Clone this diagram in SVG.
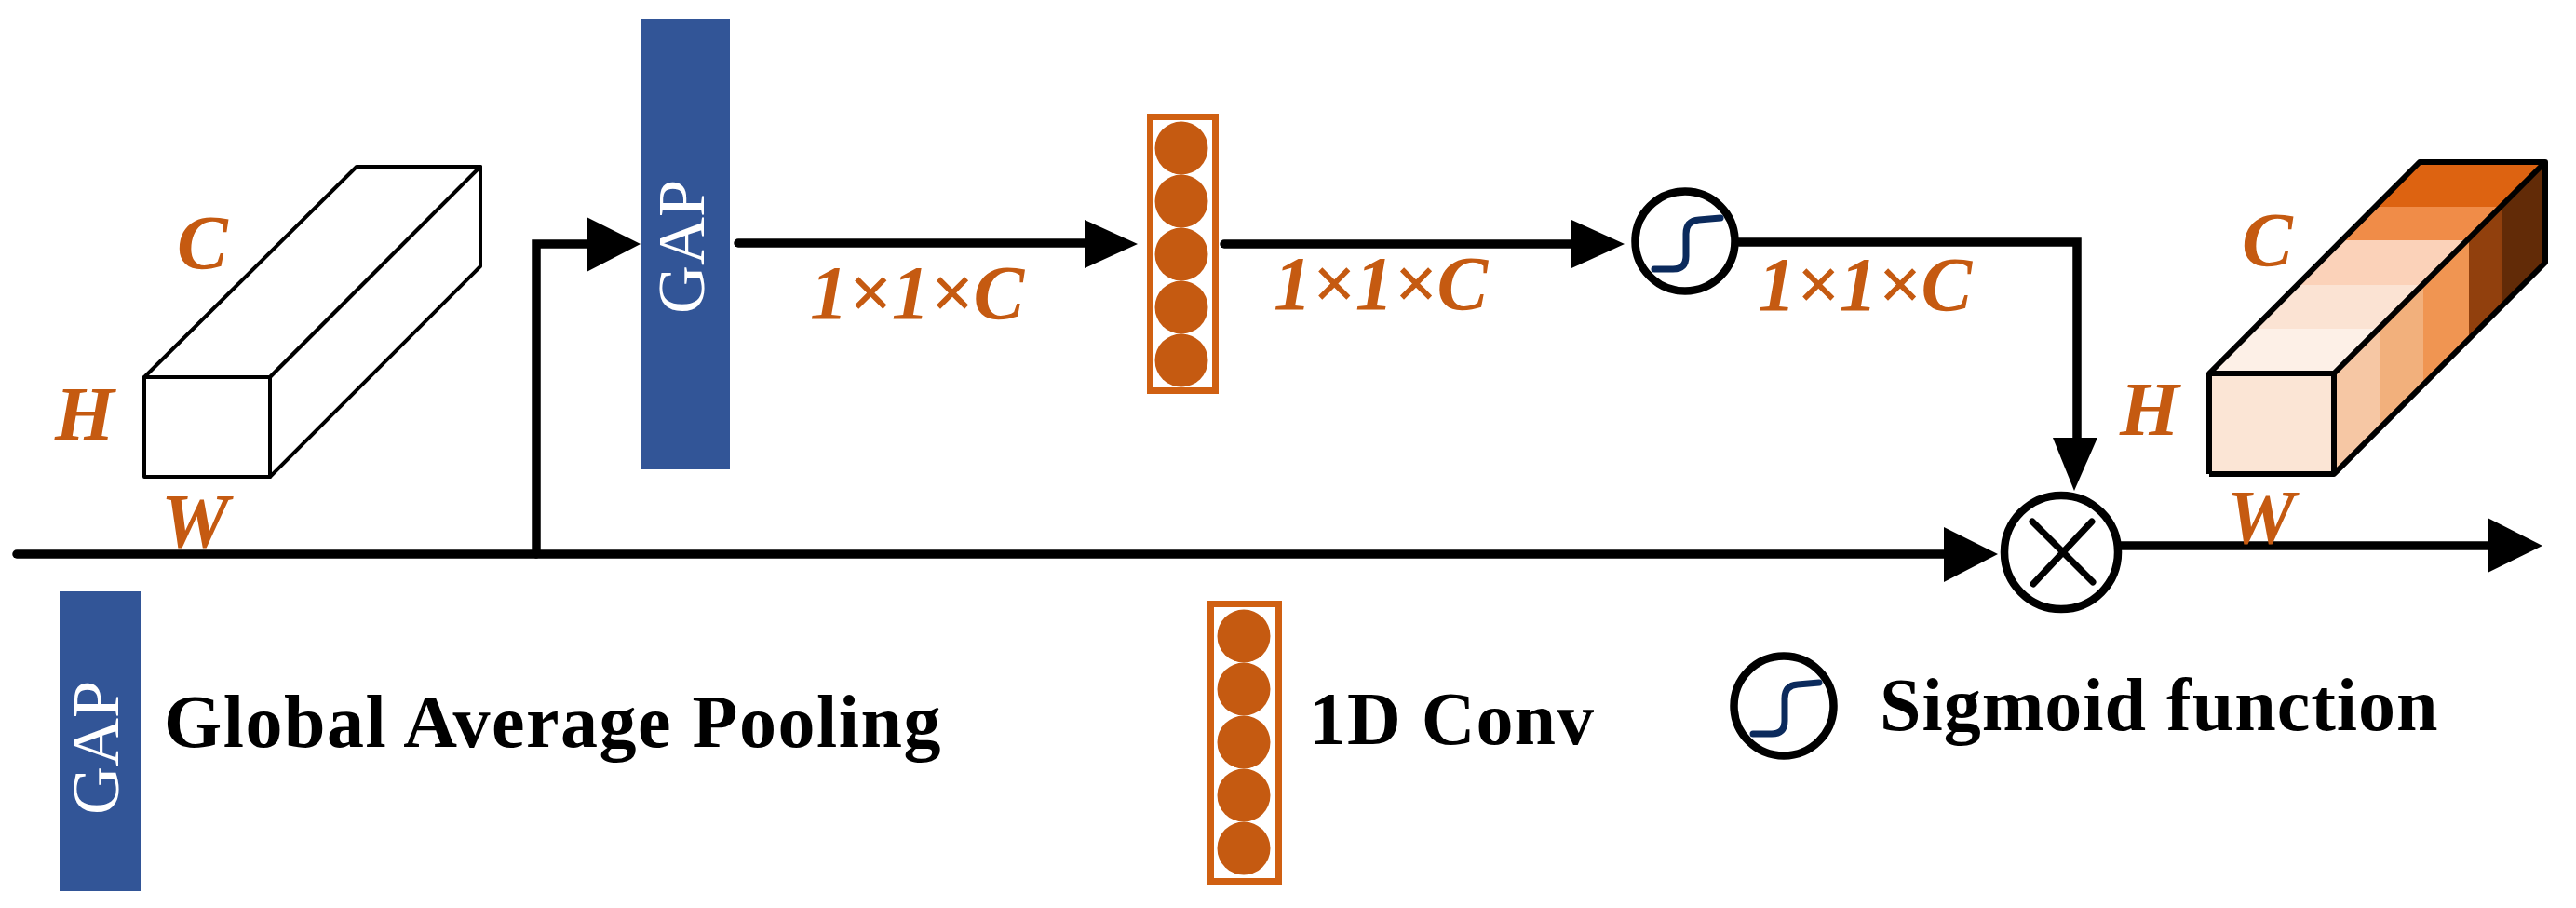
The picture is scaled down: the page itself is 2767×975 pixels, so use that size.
<svg xmlns="http://www.w3.org/2000/svg" width="2767" height="975" viewBox="0 0 2767 975">
<style>
.lb{font-family:"Liberation Serif","Times New Roman",serif;font-weight:bold;font-style:italic;font-size:82px;fill:#c55a11}
.lg{font-family:"Liberation Serif","Times New Roman",serif;font-weight:bold;font-size:80px;fill:#000}
.gp{font-family:"Liberation Serif","Times New Roman",serif;font-size:72px;fill:#fff}
.ln{fill:none;stroke:#000;stroke-width:9.500;stroke-linecap:round;stroke-linejoin:miter}
.ar{fill:#000}
.cb{fill:#fff;stroke:#000;stroke-width:4;stroke-linejoin:round}
.ring{fill:#fff;stroke:#000;stroke-width:8.500}
.sg{fill:none;stroke:#0b2a5c;stroke-width:7;stroke-linecap:round}
.bx{fill:#fff;stroke:#d06012;stroke-width:7}
.dt{fill:#c55a11}
.gb{fill:#325597}
</style>
<defs>
<g id="sig"><circle class="ring" cx="0" cy="0" r="53.500"/><path class="sg" d="M-33 30H-13Q1 30 1 16V-8Q1 -22 15 -23L38 -25"/></g>
<g id="dots"><circle class="dt" cx="0" cy="0" r="28.500"/><circle class="dt" cx="0" cy="57" r="28.500"/><circle class="dt" cx="0" cy="114" r="28.500"/><circle class="dt" cx="0" cy="171" r="28.500"/><circle class="dt" cx="0" cy="228" r="28.500"/></g>
</defs>
<g id="connectors">
<path class="ln" d="M18 595H2095"/>
<path class="ln" d="M576 595V262H635"/>
<polygon class="ar" points="630,233 688,262 630,292"/>
<path class="ln" d="M793 261H1170"/>
<polygon class="ar" points="1165,236 1222,262 1165,288"/>
<path class="ln" d="M1315 262H1690"/>
<polygon class="ar" points="1688,236 1745,262 1688,288"/>
<path class="ln" d="M1868 260H2231V475"/>
<polygon class="ar" points="2205,470 2253,470 2228,527"/>
<polygon class="ar" points="2088,566 2146,595 2088,625"/>
<path class="ln" d="M2275 586H2680"/>
<polygon class="ar" points="2672,556 2731,586 2672,615"/>
</g>
<g id="input-cuboid">
<path class="cb" d="M155 405H290V512H155Z"/>
<path class="cb" d="M155 405L383 179H516L290 405Z"/>
<path class="cb" d="M290 405L516 179V286L290 512Z"/>
<text class="lb" x="190" y="288">C</text>
<text class="lb" x="59" y="472">H</text>
<text class="lb" x="173" y="587">W</text>
</g>
<g id="gap-node">
<rect class="gb" x="688" y="20" width="96" height="484"/>
<text class="gp" transform="translate(756 337) rotate(-90)">GAP</text>
</g>
<g id="conv-node">
<rect class="bx" x="1235.500" y="125.500" width="70" height="294"/>
<use href="#dots" x="1269" y="159"/>
</g>
<g id="sigmoid-node"><use href="#sig" x="1810" y="259"/></g>
<g id="multiply-node">
<circle class="ring" cx="2214" cy="593" r="61"/>
<path d="M2183 560L2248 625M2247 560L2184 627" stroke="#000" stroke-width="7" stroke-linecap="round" fill="none"/>
</g>
<g id="output-cuboid">
<polygon fill="#fdf0e7" points="2373,401 2507,401 2554,353 2420,353"/>
<polygon fill="#fbe3d3" points="2420,353 2554,353 2601,306 2467,306"/>
<polygon fill="#fbd2b9" points="2467,306 2601,306 2650,258 2516,258"/>
<polygon fill="#f08c48" points="2516,258 2650,258 2686,222 2552,222"/>
<polygon fill="#dd6311" points="2552,222 2686,222 2734,174 2599,174"/>
<polygon fill="#f6c7a4" points="2507,401 2557,351 2557,459 2507,509"/>
<polygon fill="#f2b07c" points="2557,351 2603,305 2603,413 2557,459"/>
<polygon fill="#f09552" points="2603,305 2652,256 2652,364 2603,413"/>
<polygon fill="#91400d" points="2652,256 2687,221 2687,329 2652,364"/>
<polygon fill="#622b07" points="2687,221 2734,174 2734,282 2687,329"/>
<rect fill="#fbe5d5" x="2373" y="401" width="134" height="108"/>
<path d="M2373 509V401L2599 174H2734V282L2507 509H2373M2373 401H2507V509M2507 401L2734 174" fill="none" stroke="#000" stroke-width="6" stroke-linejoin="round"/>
<text class="lb" x="2408" y="285">C</text>
<text class="lb" x="2277" y="467">H</text>
<text class="lb" x="2392" y="583">W</text>
</g>
<g id="dim-labels">
<text class="lb" x="870" y="342">1×1×C</text>
<text class="lb" x="1368" y="332">1×1×C</text>
<text class="lb" x="1888" y="333">1×1×C</text>
</g>
<g id="legend-gap">
<rect class="gb" x="64" y="635" width="87" height="322"/>
<text class="gp" transform="translate(127 875) rotate(-90)">GAP</text>
<text class="lg" x="176" y="802" letter-spacing="1.500">Global Average Pooling</text>
</g>
<g id="legend-conv">
<rect class="bx" x="1300.500" y="648.500" width="73" height="298"/>
<use href="#dots" x="1336" y="683"/>
<text class="lg" x="1406" y="799" letter-spacing="1">1D Conv</text>
</g>
<g id="legend-sigmoid">
<use href="#sig" x="1916" y="758"/>
<text class="lg" x="2019" y="784" letter-spacing="1">Sigmoid function</text>
</g>
</svg>
